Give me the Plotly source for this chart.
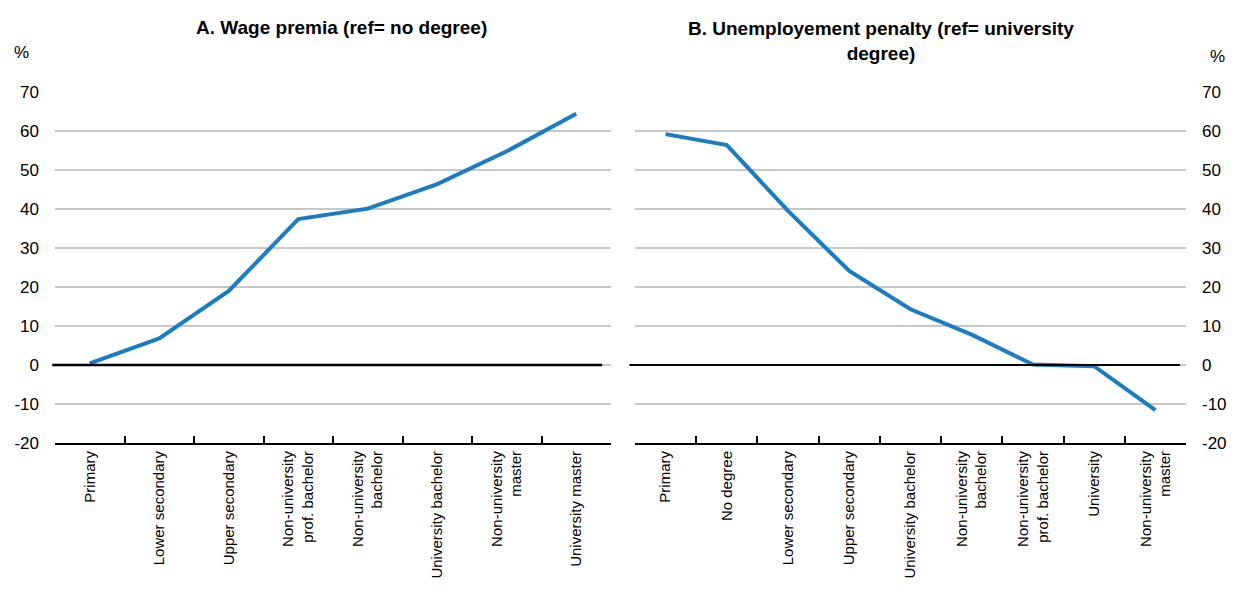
import plotly.graph_objects as go

# panel A: wage premia (ref = no degree)
wage_cats = ["Primary", "Lower secondary", "Upper secondary",
             "Non-university<br>prof. bachelor", "Non-university<br>bachelor",
             "University bachelor", "Non-university<br>master", "University master"]
wage_vals = [0.4, 6.8, 19.0, 37.4, 40.1, 46.4, 54.8, 64.4]

# panel B: unemployment penalty (ref = university degree)
unemp_cats = ["Primary", "No degree", "Lower secondary", "Upper secondary",
              "University bachelor", "Non-university<br>bachelor",
              "Non-university<br>prof. bachelor", "University", "Non-university<br>master"]
unemp_vals = [59.2, 56.4, 39.5, 24.1, 14.3, 7.8, 0.1, -0.3, -11.6]

y_ticks = [-20, -10, 0, 10, 20, 30, 40, 50, 60, 70]
y_labels = [str(v) for v in y_ticks]  # plain hyphen, like the original

FONT = "Liberation Sans, Arial, sans-serif"
BLUE = "#1a7cc4"
GRID = "#c8c8c8"

W, H = 1234, 594
L, R, T, B = 55, 48, 92, 151          # plot box in pixels
PW, PH = W - L - R, H - T - B


def px_x(x):
    return (x - L) / PW


def px_y(y):
    return (H - B - y) / PH


fig = go.Figure()

fig.add_trace(go.Scatter(x=wage_cats, y=wage_vals, mode="lines",
                         line=dict(color=BLUE, width=4), xaxis="x", yaxis="y",
                         showlegend=False))
fig.add_trace(go.Scatter(x=unemp_cats, y=unemp_vals, mode="lines",
                         line=dict(color=BLUE, width=4), xaxis="x2", yaxis="y2",
                         showlegend=False))

xcommon = dict(type="category", showline=True, linecolor="black", linewidth=2,
               ticks="inside", ticklen=7, tickwidth=2, tickcolor="black",
               tickson="boundaries", tickangle=-90, showgrid=False, zeroline=False,
               automargin=False,
               tickfont=dict(family=FONT, size=15, color="black"))
ycommon = dict(range=[-20, 70], tickvals=y_ticks, ticktext=y_labels, showgrid=True,
               gridcolor=GRID, gridwidth=2, zeroline=False, showline=False, ticks="",
               ticklabelstandoff=15, automargin=False,
               tickfont=dict(family=FONT, size=17, color="black"))

fig.update_layout(
    width=W, height=H,
    margin=dict(l=L, r=R, t=T, b=B, autoexpand=False),
    paper_bgcolor="white", plot_bgcolor="white",
    xaxis=dict(domain=[0, px_x(611)], anchor="y",
               range=[-0.5, len(wage_cats) - 0.5], **xcommon),
    yaxis=dict(domain=[0, 1], anchor="x", side="left", **ycommon),
    xaxis2=dict(domain=[px_x(635), 1], anchor="y2",
                range=[-0.5, len(unemp_cats) - 0.5], **xcommon),
    yaxis2=dict(domain=[0, 1], anchor="x2", side="right", **ycommon),
)

# black zero lines
fig.add_shape(type="line", xref="x domain", yref="y", x0=-0.005, x1=0.984, y0=0, y1=0,
              line=dict(color="black", width=2.5))
fig.add_shape(type="line", xref="x2 domain", yref="y2", x0=-0.01, x1=0.989, y0=0, y1=0,
              line=dict(color="black", width=2))


# titles and unit labels
def note(x_px, y_px, text, size):
    fig.add_annotation(x=px_x(x_px), y=px_y(y_px), xref="paper", yref="paper",
                       xanchor="center", yanchor="middle", text=text, showarrow=False,
                       font=dict(family=FONT, size=size, color="black"))


note(341, 27, "<b>A. Wage premia (ref= no degree)</b>", 19)
note(881, 41, "<b>B. Unemployement penalty (ref= university<br>degree)</b>", 19)
note(21, 52, "%", 17)
note(1217, 57, "%", 17)

# page body has a default 8px margin; drop it so the figure sits at 0,0
fig.write_html("out.html", config={"displayModeBar": False},
               post_script="document.body.style.margin='0';")
